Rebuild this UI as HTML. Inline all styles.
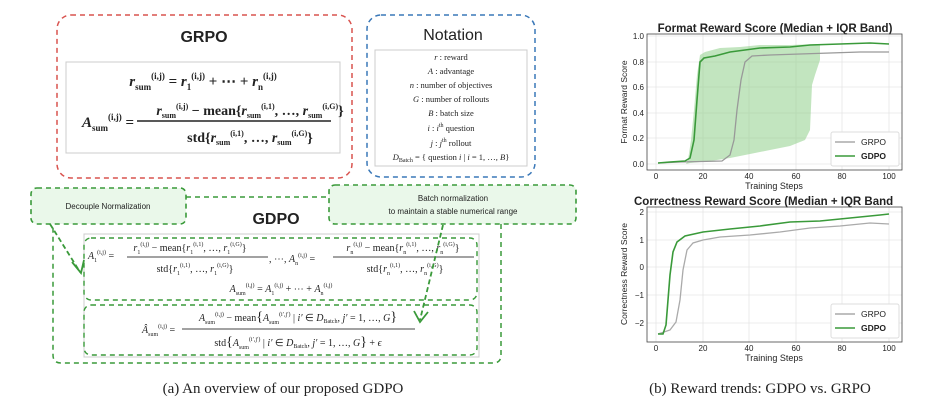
<!DOCTYPE html>
<html><head><meta charset="utf-8"><style>
body{margin:0;background:#fff;width:952px;height:415px;overflow:hidden;font-family:"Liberation Serif",serif;}
svg{position:absolute;left:0;top:0}
.m{font-family:"Liberation Serif",serif;fill:#222}
.h{font-family:"Liberation Sans",sans-serif;fill:#222}
</style></head><body>
<svg width="952" height="415" viewBox="0 0 952 415">
<!-- GRPO box -->
<rect x="57" y="15" width="295" height="163" rx="14" fill="none" stroke="#d9534f" stroke-width="1.5" stroke-dasharray="5,4"/>
<text x="204" y="42" text-anchor="middle" class="h" font-size="16" font-weight="bold" fill="#333">GRPO</text>
<rect x="66" y="62" width="274" height="91" fill="#fff" stroke="#ccc" stroke-width="1"/>
<text x="203" y="86" text-anchor="middle" class="m" font-size="15" font-weight="bold"><tspan font-style="italic">r</tspan><tspan font-size="9" dy="4">sum</tspan><tspan font-size="9" dy="-11">(i,j)</tspan><tspan dy="7"> = </tspan><tspan font-style="italic">r</tspan><tspan font-size="9" dy="4">1</tspan><tspan font-size="9" dy="-11">(i,j)</tspan><tspan dy="7"> + ⋯ + </tspan><tspan font-style="italic">r</tspan><tspan font-size="9" dy="4">n</tspan><tspan font-size="9" dy="-11">(i,j)</tspan></text>
<text x="82" y="127" class="m" font-size="15" font-weight="bold"><tspan font-style="italic">A</tspan><tspan font-size="9" dy="4">sum</tspan><tspan font-size="9" dy="-11">(i,j)</tspan><tspan dy="7"> =</tspan></text>
<text x="250" y="115" text-anchor="middle" class="m" font-size="14" font-weight="bold"><tspan font-style="italic">r</tspan><tspan font-size="8" dy="3">sum</tspan><tspan font-size="8" dy="-9">(i,j)</tspan><tspan dy="6"> − mean{</tspan><tspan font-style="italic">r</tspan><tspan font-size="8" dy="3">sum</tspan><tspan font-size="8" dy="-9">(i,1)</tspan><tspan dy="6">, …, </tspan><tspan font-style="italic">r</tspan><tspan font-size="8" dy="3">sum</tspan><tspan font-size="8" dy="-9">(i,G)</tspan><tspan dy="6">}</tspan></text>
<line x1="137" y1="121" x2="331" y2="121" stroke="#222" stroke-width="1.6"/>
<text x="250" y="142" text-anchor="middle" class="m" font-size="14" font-weight="bold"><tspan>std{</tspan><tspan font-style="italic">r</tspan><tspan font-size="8" dy="3">sum</tspan><tspan font-size="8" dy="-9">(i,1)</tspan><tspan dy="6">, …, </tspan><tspan font-style="italic">r</tspan><tspan font-size="8" dy="3">sum</tspan><tspan font-size="8" dy="-9">(i,G)</tspan><tspan dy="6">}</tspan></text>

<!-- Notation -->
<rect x="367" y="15" width="168" height="162" rx="14" fill="none" stroke="#3a78b8" stroke-width="1.5" stroke-dasharray="5,4"/>
<text x="453" y="40" text-anchor="middle" class="h" font-size="16" fill="#222">Notation</text>
<rect x="375" y="50" width="152" height="116" fill="#fff" stroke="#ccc"/>
<g class="m" font-size="8.5" text-anchor="middle">
<text x="451" y="60"><tspan font-style="italic">r</tspan> : reward</text>
<text x="451" y="74"><tspan font-style="italic">A</tspan> : advantage</text>
<text x="451" y="88"><tspan font-style="italic">n</tspan> : number of objectives</text>
<text x="451" y="102"><tspan font-style="italic">G</tspan> : number of rollouts</text>
<text x="451" y="116"><tspan font-style="italic">B</tspan> : batch size</text>
<text x="451" y="131"><tspan font-style="italic">i</tspan> : <tspan font-style="italic">i</tspan><tspan font-size="6" dy="-4">th</tspan><tspan dy="4"> question</tspan></text>
<text x="451" y="146"><tspan font-style="italic">j</tspan> : <tspan font-style="italic">j</tspan><tspan font-size="6" dy="-4">th</tspan><tspan dy="4"> rollout</tspan></text>
<text x="451" y="160"><tspan font-style="italic">D</tspan><tspan font-size="6" dy="2">Batch</tspan><tspan dy="-2"> = { question </tspan><tspan font-style="italic">i</tspan> | <tspan font-style="italic">i</tspan> = 1, …, <tspan font-style="italic">B</tspan>}</text>
</g>

<!-- GDPO big box -->
<path d="M186 197 H329 M501 224 V355 Q501 363 493 363 H61 Q53 363 53 355 V224" fill="none" stroke="#3a9a3a" stroke-width="1.5" stroke-dasharray="5,4"/>
<text x="276" y="224" text-anchor="middle" class="h" font-size="16" font-weight="bold" fill="#333">GDPO</text>
<rect x="84" y="234" width="395" height="123" fill="#fff" stroke="#ccc"/>
<rect x="84" y="238" width="393" height="62" rx="7" fill="none" stroke="#3a9a3a" stroke-width="1.4" stroke-dasharray="5,4"/>
<rect x="84" y="305" width="393" height="50" rx="7" fill="none" stroke="#3a9a3a" stroke-width="1.4" stroke-dasharray="5,4"/>
<g class="m" font-size="10" fill="#444">
<text x="88" y="259"><tspan font-style="italic">A</tspan><tspan font-size="6" dy="3">1</tspan><tspan font-size="6" dy="-8">(i,j)</tspan><tspan dy="5"> =</tspan></text>
<text x="190" y="251" text-anchor="middle"><tspan font-style="italic">r</tspan><tspan font-size="6" dy="3">1</tspan><tspan font-size="6" dy="-8">(i,j)</tspan><tspan dy="5"> − mean{</tspan><tspan font-style="italic">r</tspan><tspan font-size="6" dy="3">1</tspan><tspan font-size="6" dy="-8">(i,1)</tspan><tspan dy="5">, …, </tspan><tspan font-style="italic">r</tspan><tspan font-size="6" dy="3">1</tspan><tspan font-size="6" dy="-8">(i,G)</tspan><tspan dy="5">}</tspan></text>
<line x1="127" y1="257" x2="268" y2="257" stroke="#444"/>
<text x="195" y="272" text-anchor="middle">std{<tspan font-style="italic">r</tspan><tspan font-size="6" dy="3">1</tspan><tspan font-size="6" dy="-8">(i,1)</tspan><tspan dy="5">, …, </tspan><tspan font-style="italic">r</tspan><tspan font-size="6" dy="3">1</tspan><tspan font-size="6" dy="-8">(i,G)</tspan><tspan dy="5">}</tspan></text>
<text x="269" y="262">, ⋯, <tspan font-style="italic">A</tspan><tspan font-size="6" dy="3">n</tspan><tspan font-size="6" dy="-8">(i,j)</tspan><tspan dy="5"> =</tspan></text>
<text x="403" y="251" text-anchor="middle"><tspan font-style="italic">r</tspan><tspan font-size="6" dy="3">n</tspan><tspan font-size="6" dy="-8">(i,j)</tspan><tspan dy="5"> − mean{</tspan><tspan font-style="italic">r</tspan><tspan font-size="6" dy="3">n</tspan><tspan font-size="6" dy="-8">(i,1)</tspan><tspan dy="5">, …, </tspan><tspan font-style="italic">r</tspan><tspan font-size="6" dy="3">n</tspan><tspan font-size="6" dy="-8">(i,G)</tspan><tspan dy="5">}</tspan></text>
<line x1="333" y1="257" x2="474" y2="257" stroke="#444"/>
<text x="405" y="272" text-anchor="middle">std{<tspan font-style="italic">r</tspan><tspan font-size="6" dy="3">n</tspan><tspan font-size="6" dy="-8">(i,1)</tspan><tspan dy="5">, …, </tspan><tspan font-style="italic">r</tspan><tspan font-size="6" dy="3">n</tspan><tspan font-size="6" dy="-8">(i,G)</tspan><tspan dy="5">}</tspan></text>
<text x="281" y="292" text-anchor="middle"><tspan font-style="italic">A</tspan><tspan font-size="6" dy="3">sum</tspan><tspan font-size="6" dy="-8">(i,j)</tspan><tspan dy="5"> = </tspan><tspan font-style="italic">A</tspan><tspan font-size="6" dy="3">1</tspan><tspan font-size="6" dy="-8">(i,j)</tspan><tspan dy="5"> + ⋯ + </tspan><tspan font-style="italic">A</tspan><tspan font-size="6" dy="3">n</tspan><tspan font-size="6" dy="-8">(i,j)</tspan></text>
<text x="142" y="333"><tspan font-style="italic">Â</tspan><tspan font-size="6" dy="3">sum</tspan><tspan font-size="6" dy="-8">(i,j)</tspan><tspan dy="5"> =</tspan></text>
<text x="298" y="321" text-anchor="middle"><tspan font-style="italic">A</tspan><tspan font-size="6" dy="3">sum</tspan><tspan font-size="6" dy="-8">(i,j)</tspan><tspan dy="5"> − mean</tspan><tspan font-size="14">{</tspan><tspan font-style="italic">A</tspan><tspan font-size="6" dy="3">sum</tspan><tspan font-size="6" dy="-8">(i′,j′)</tspan><tspan dy="5"> | </tspan><tspan font-style="italic">i′</tspan> ∈ <tspan font-style="italic">D</tspan><tspan font-size="6" dy="2">Batch</tspan><tspan dy="-2">, </tspan><tspan font-style="italic">j′</tspan> = 1, …, <tspan font-style="italic">G</tspan><tspan font-size="14">}</tspan></text>
<line x1="182" y1="329" x2="415" y2="329" stroke="#444"/>
<text x="298" y="346" text-anchor="middle"><tspan>std</tspan><tspan font-size="14">{</tspan><tspan font-style="italic">A</tspan><tspan font-size="6" dy="3">sum</tspan><tspan font-size="6" dy="-8">(i′,j′)</tspan><tspan dy="5"> | </tspan><tspan font-style="italic">i′</tspan> ∈ <tspan font-style="italic">D</tspan><tspan font-size="6" dy="2">Batch</tspan><tspan dy="-2">, </tspan><tspan font-style="italic">j′</tspan> = 1, …, <tspan font-style="italic">G</tspan><tspan font-size="14">}</tspan> + <tspan font-style="italic">ϵ</tspan></text>
</g>

<!-- callouts -->
<rect x="31" y="188" width="155" height="36" rx="6" fill="#eaf8ea" stroke="#3a9a3a" stroke-width="1.6" stroke-dasharray="5,4"/>
<text x="108" y="209" text-anchor="middle" class="h" font-size="8" fill="#333">Decouple Normalization</text>
<rect x="329" y="185" width="247" height="39" rx="6" fill="#eaf8ea" stroke="#3a9a3a" stroke-width="1.6" stroke-dasharray="5,4"/>
<text x="453" y="201" text-anchor="middle" class="h" font-size="8" fill="#333">Batch normalization</text>
<text x="453" y="214" text-anchor="middle" class="h" font-size="8" fill="#333">to maintain a stable numerical range</text>
<path d="M50 224 L80 272" stroke="#3a9a3a" stroke-width="1.8" stroke-dasharray="5,3" fill="none"/>
<path d="M72 262 L81 273 L84 260" stroke="#3a9a3a" stroke-width="1.8" fill="none"/>
<path d="M443 225 L420 320" stroke="#3a9a3a" stroke-width="1.8" stroke-dasharray="5,3" fill="none"/>
<path d="M414 311 L420 322 L428 312" stroke="#3a9a3a" stroke-width="1.8" fill="none"/>

<text x="283" y="393" text-anchor="middle" class="m" font-size="15" fill="#333">(a) An overview of our proposed GDPO</text>

<!-- Top plot -->
<text x="775" y="32" text-anchor="middle" class="h" font-size="11.5" font-weight="bold">Format Reward Score (Median + IQR Band)</text>
<g stroke="#e6e6e6" stroke-width="0.8">
<line x1="656" y1="34" x2="656" y2="170"/><line x1="703" y1="34" x2="703" y2="170"/><line x1="749" y1="34" x2="749" y2="170"/><line x1="796" y1="34" x2="796" y2="170"/><line x1="842" y1="34" x2="842" y2="170"/><line x1="889" y1="34" x2="889" y2="170"/>
<line x1="647" y1="36" x2="902" y2="36"/><line x1="647" y1="62" x2="902" y2="62"/><line x1="647" y1="87" x2="902" y2="87"/><line x1="647" y1="113" x2="902" y2="113"/><line x1="647" y1="138" x2="902" y2="138"/><line x1="647" y1="164" x2="902" y2="164"/>
</g>
<path d="M686 164 L688 160 L691 140 L694 110 L697 75 L700 55 L705 52 L720 48 L740 47 L760 45 L780 45 L790 45 L820 44 L820 60 L815 75 L812 85 L810 130 L805 140 L790 146 L770 150 L750 154 L730 158 L710 161 L690 163 Z" fill="#8fcf8a" opacity="0.55"/>
<path d="M658 163 L680 162 L722 161 L730 155 L734 140 L737 110 L741 80 L745 62 L752 56 L770 55 L800 54 L830 53 L860 52 L889 52" fill="none" stroke="#999" stroke-width="1.3"/>
<path d="M658 163 L670 162 L685 161 L690 158 L694 140 L697 100 L700 62 L704 58 L715 56 L730 52 L760 48 L790 47 L810 45 L840 44 L870 43 L889 44" fill="none" stroke="#3a9a3a" stroke-width="1.6"/>
<rect x="647" y="34" width="255" height="136" fill="none" stroke="#444" stroke-width="0.8"/>
<g class="h" font-size="8" text-anchor="end"><text x="644" y="39">1.0</text><text x="644" y="65">0.8</text><text x="644" y="90">0.6</text><text x="644" y="116">0.4</text><text x="644" y="141">0.2</text><text x="644" y="167">0.0</text></g>
<g class="h" font-size="8" text-anchor="middle"><text x="656" y="179">0</text><text x="703" y="179">20</text><text x="749" y="179">40</text><text x="796" y="179">60</text><text x="842" y="179">80</text><text x="889" y="179">100</text></g>
<text x="774" y="189" text-anchor="middle" class="h" font-size="9">Training Steps</text>
<text transform="translate(627,102) rotate(-90)" text-anchor="middle" class="h" font-size="8.5">Format Reward Score</text>
<rect x="831" y="132" width="68" height="34" fill="#fff" stroke="#ddd" rx="2"/>
<line x1="835" y1="142" x2="855" y2="142" stroke="#999" stroke-width="1.3"/><text x="861" y="145" class="h" font-size="8.5">GRPO</text>
<line x1="835" y1="156" x2="855" y2="156" stroke="#3a9a3a" stroke-width="1.6"/><text x="861" y="159" class="h" font-size="8.5" font-weight="bold">GDPO</text>

<!-- Bottom plot -->
<text x="634" y="205" class="h" font-size="11.5" font-weight="bold">Correctness Reward Score (Median + IQR Band</text>
<rect x="906" y="190" width="46" height="18" fill="#fff"/>
<g stroke="#e6e6e6" stroke-width="0.8">
<line x1="656" y1="207" x2="656" y2="342"/><line x1="703" y1="207" x2="703" y2="342"/><line x1="749" y1="207" x2="749" y2="342"/><line x1="796" y1="207" x2="796" y2="342"/><line x1="842" y1="207" x2="842" y2="342"/><line x1="889" y1="207" x2="889" y2="342"/>
<line x1="647" y1="212" x2="902" y2="212"/><line x1="647" y1="240" x2="902" y2="240"/><line x1="647" y1="267" x2="902" y2="267"/><line x1="647" y1="295" x2="902" y2="295"/><line x1="647" y1="323" x2="902" y2="323"/>
</g>
<path d="M658 334 L670 330 L676 322 L680 300 L683 270 L687 250 L693 243 L703 240 L720 237 L750 235 L780 232 L810 228 L840 226 L870 223 L889 224" fill="none" stroke="#aaa" stroke-width="1.3"/>
<path d="M658 334 L663 334 L666 325 L668 300 L670 275 L673 252 L677 242 L685 236 L703 232 L730 229 L760 226 L790 222 L820 221 L850 218 L880 215 L889 214" fill="none" stroke="#3a9a3a" stroke-width="1.6"/>
<rect x="647" y="207" width="255" height="135" fill="none" stroke="#444" stroke-width="0.8"/>
<g class="h" font-size="8" text-anchor="end"><text x="644" y="215">2</text><text x="644" y="243">1</text><text x="644" y="270">0</text><text x="644" y="298">−1</text><text x="644" y="326">−2</text></g>
<g class="h" font-size="8" text-anchor="middle"><text x="656" y="351">0</text><text x="703" y="351">20</text><text x="749" y="351">40</text><text x="796" y="351">60</text><text x="842" y="351">80</text><text x="889" y="351">100</text></g>
<text x="774" y="361" text-anchor="middle" class="h" font-size="9">Training Steps</text>
<text transform="translate(627,274) rotate(-90)" text-anchor="middle" class="h" font-size="8.5">Correctness Reward Score</text>
<rect x="831" y="304" width="68" height="34" fill="#fff" stroke="#ddd" rx="2"/>
<line x1="835" y1="314" x2="855" y2="314" stroke="#999" stroke-width="1.3"/><text x="861" y="317" class="h" font-size="8.5">GRPO</text>
<line x1="835" y1="328" x2="855" y2="328" stroke="#3a9a3a" stroke-width="1.6"/><text x="861" y="331" class="h" font-size="8.5" font-weight="bold">GDPO</text>

<text x="760" y="393" text-anchor="middle" class="m" font-size="15" fill="#333">(b) Reward trends: GDPO vs. GRPO</text>
</svg>
</body></html>
